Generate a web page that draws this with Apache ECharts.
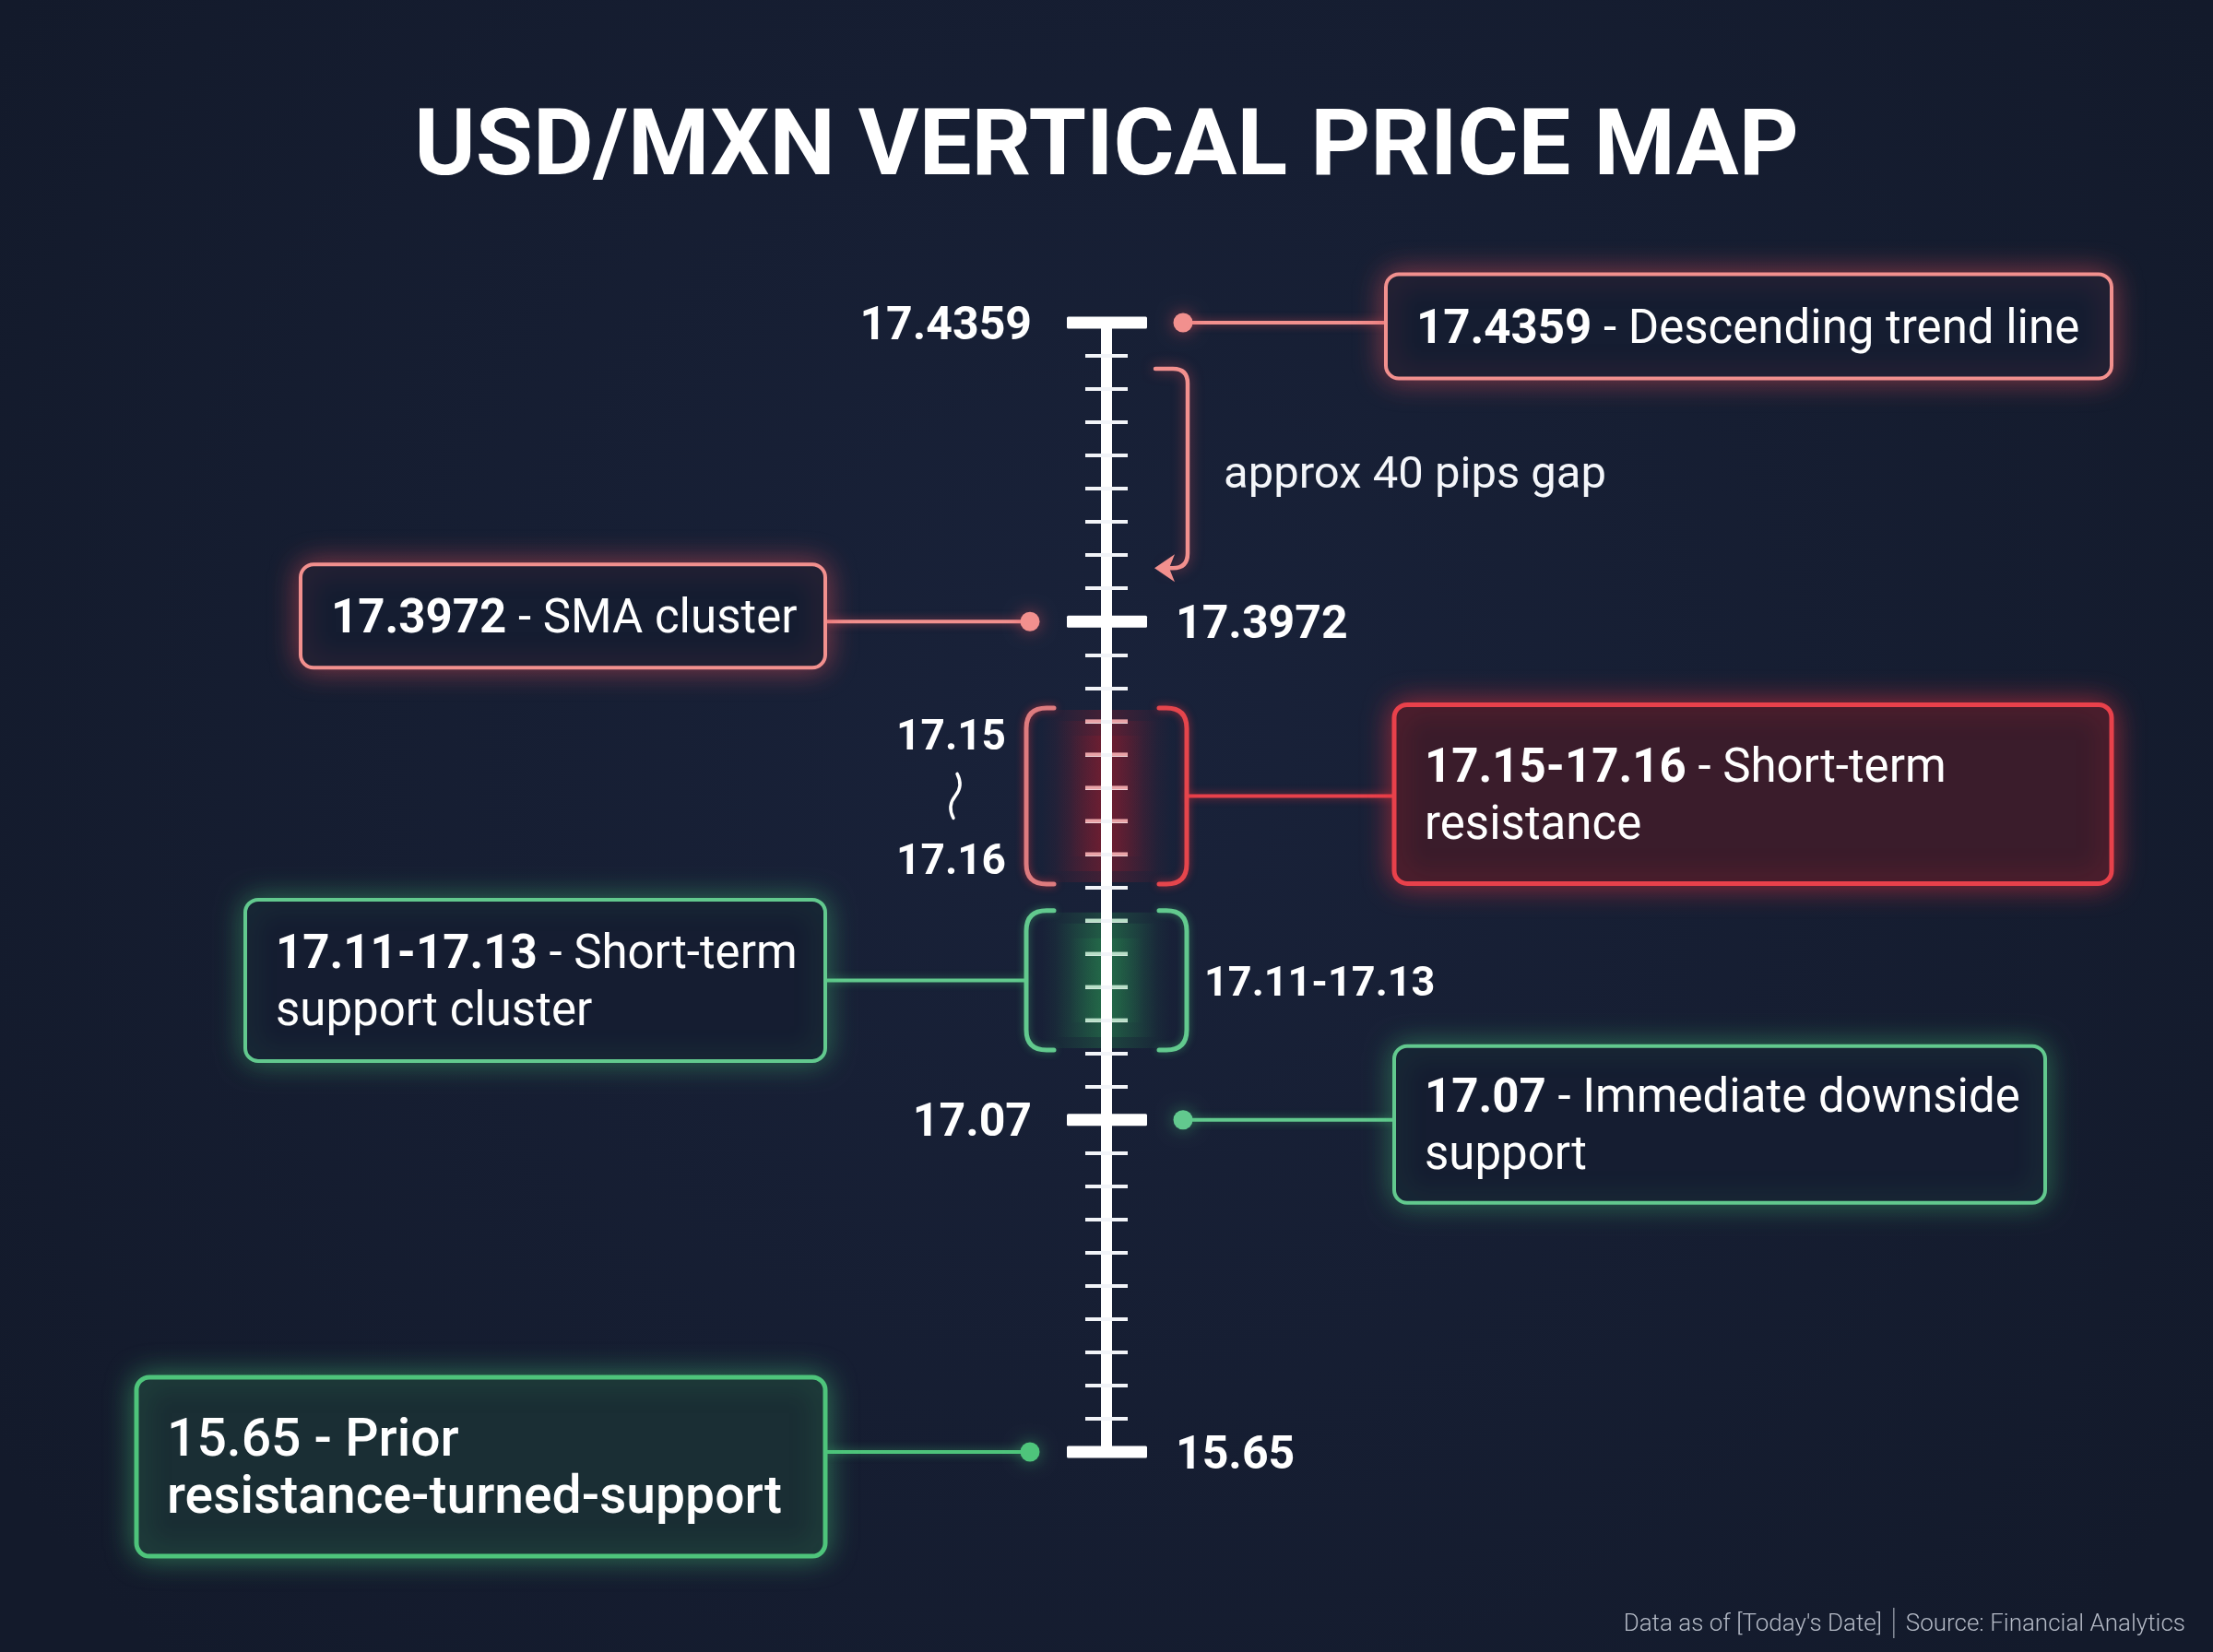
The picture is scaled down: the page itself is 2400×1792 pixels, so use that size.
<!DOCTYPE html>
<html>
<head>
<meta charset="utf-8">
<script src="https://cdn.jsdelivr.net/npm/echarts@6/dist/echarts.min.js"></script>
<style>
html,body{margin:0;padding:0;background:#151d30;}
#chart{width:2400px;height:1792px;}
</style>
</head>
<body>
<div id="chart"></div>
<script>
// ---------- data ----------
const titleText = 'USD/MXN VERTICAL PRICE MAP';
const levelPrices = ['17.4359', '17.3972', '17.15-17.16', '17.11-17.13', '17.07', '15.65'];
const levelNotes = ['Descending trend line', 'SMA cluster', 'Short-term\nresistance', 'Short-term\nsupport cluster', 'Immediate downside\nsupport', 'Prior\nresistance-turned-support'];
const levelKinds = ['resistance', 'resistance', 'resistance', 'support', 'support', 'support'];
// position of each level on the schematic ruler (ruler slots, 0 = top)
const rulerFrom = [0, 9, 11.6, 17.7, 24, 34];
const rulerTo   = [0, 9, 16.9, 21.9, 24, 34];
const rulerMin = 0;
const rulerMax = 34;
const rulerStep = 1;
const gapNote = 'approx 40 pips gap';
const gapPair = [0, 1];
const footerDate = "Data as of [Today's Date]";
const footerSource = 'Source: Financial Analytics';

// ---------- layout / styles ----------
const FONT = 'Roboto, "Noto Sans", sans-serif';
const TDY = 5; // small downward nudge for text baselines
const PINK = '#F2908E', RED = '#E8414B', GREEN = '#62C98E', GREEN2 = '#4EC47B';
const boxLayout = [
  {side: 1,  x0: 303,   x1: 1090, h: 113, dy: 4,  fill: '#151d31', stroke: PINK,  lw: 4, glow: 'rgba(230,80,90,0.55)', size: 51, wNum: 'bold', wTxt: 'normal', labelGap: 81},
  {side: -1, x0: -874,  x1: -305, h: 112, dy: -6, fill: '#151d31', stroke: PINK,  lw: 4, glow: 'rgba(230,80,90,0.55)', size: 51, wNum: 'bold', wTxt: 'normal', labelGap: 75},
  {side: 1,  x0: 312,   x1: 1090, h: 194, dy: -2, fill: '#3a1c2b', stroke: RED,   lw: 5, glow: 'rgba(235,50,60,0.6)', size: 51, wNum: 'bold', wTxt: 'normal',
   zoneLabel: 'split', bracketL: '#DE7B7F', bracketR: '#E5454C', tick: '#E9A3A7', zoneGlow: '150,28,45'},
  {side: -1, x0: -934,  x1: -305, h: 175, dy: 0,  fill: '#151d31', stroke: GREEN, lw: 4, glow: 'rgba(70,200,120,0.45)', size: 51, wNum: 'bold', wTxt: 'normal',
   zoneLabel: 'whole', bracketL: GREEN, bracketR: GREEN, tick: '#B8DEC7', zoneGlow: '40,140,80'},
  {side: 1,  x0: 312,   x1: 1018, h: 170, dy: 5,  fill: '#151d31', stroke: GREEN, lw: 4, glow: 'rgba(70,200,120,0.45)', size: 51, wNum: 'bold', wTxt: 'normal', labelGap: 81},
  {side: -1, x0: -1052, x1: -305, h: 194, dy: 16, fill: '#1a2e34', stroke: GREEN2, lw: 5, glow: 'rgba(70,200,120,0.5)', size: 57, wNum: 500, wTxt: 500, labelGap: 75}
];

function levelColor(i) { return boxLayout[i].stroke; }

// ---------- render: zone glows (behind the axis) ----------
function renderGlow(params, api) {
  const i = api.value(0);
  const L = boxLayout[i];
  const pA = api.coord([0, api.value(1)]);
  const pB = api.coord([0, api.value(2)]);
  if (pB[1] - pA[1] < 1 || !L.zoneGlow) return {type: 'group', children: []};
  const c = L.zoneGlow;
  const grad = function (a) {
    return {type: 'linear', x: 0, y: 0, x2: 1, y2: 0, colorStops: [
      {offset: 0, color: 'rgba(' + c + ',0)'},
      {offset: 0.5, color: 'rgba(' + c + ',' + a + ')'},
      {offset: 1, color: 'rgba(' + c + ',0)'}]};
  };
  const h = pB[1] - pA[1];
  return {type: 'group', children: [
    {type: 'rect', shape: {x: pA[0] - 70, y: pA[1] + 2, width: 140, height: h - 4}, style: {fill: grad(0.35)}},
    {type: 'rect', shape: {x: pA[0] - 55, y: pA[1] + 14, width: 110, height: h - 28}, style: {fill: grad(0.35)}},
    {type: 'rect', shape: {x: pA[0] - 40, y: pA[1] + 30, width: 80, height: h - 60}, style: {fill: grad(0.3)}}
  ]};
}

// ---------- render: levels ----------
function renderLevel(params, api) {
  const i = api.value(0);
  const L = boxLayout[i];
  const pA = api.coord([0, api.value(1)]);
  const pB = api.coord([0, api.value(2)]);
  const cx = pA[0], yA = pA[1], yB = pB[1];
  const isZone = yB - yA > 1;
  const yMid = (yA + yB) / 2;
  const col = levelColor(i);
  const ch = [];
  const ls = -L.side;
  const align = ls < 0 ? 'right' : 'left';

  const bx0 = cx + L.x0, bx1 = cx + L.x1, bcy = yMid + L.dy;
  const edge = L.side > 0 ? bx0 : bx1;

  if (isZone) {
    const bxStart = cx + L.side * 87;
    ch.push({type: 'line', shape: {x1: bxStart, y1: yMid, x2: edge, y2: yMid},
      style: {stroke: col, lineWidth: 4, shadowBlur: 10, shadowColor: L.glow}});
    for (let s = Math.ceil(api.value(1)); s <= Math.floor(api.value(2)); s += rulerStep) {
      const ty = api.coord([0, s])[1];
      ch.push({type: 'line', shape: {x1: cx - 23, y1: ty, x2: cx - 6, y2: ty}, style: {stroke: L.tick, lineWidth: 4}});
      ch.push({type: 'line', shape: {x1: cx + 6, y1: ty, x2: cx + 23, y2: ty}, style: {stroke: L.tick, lineWidth: 4}});
    }
    const R = 22, xo = 87, xi = 57;
    const xl = cx - xo, xr = cx + xo;
    const dl = 'M ' + (cx - xi) + ' ' + yA + ' L ' + (xl + R) + ' ' + yA + ' Q ' + xl + ' ' + yA + ' ' + xl + ' ' + (yA + R) +
      ' L ' + xl + ' ' + (yB - R) + ' Q ' + xl + ' ' + yB + ' ' + (xl + R) + ' ' + yB + ' L ' + (cx - xi) + ' ' + yB;
    const dr = 'M ' + (cx + xi) + ' ' + yA + ' L ' + (xr - R) + ' ' + yA + ' Q ' + xr + ' ' + yA + ' ' + xr + ' ' + (yA + R) +
      ' L ' + xr + ' ' + (yB - R) + ' Q ' + xr + ' ' + yB + ' ' + (xr - R) + ' ' + yB + ' L ' + (cx + xi) + ' ' + yB;
    ch.push({type: 'path', shape: {pathData: dl}, style: {fill: 'none', stroke: L.bracketL, lineWidth: 5, lineCap: 'round', shadowBlur: 8, shadowColor: L.glow}});
    ch.push({type: 'path', shape: {pathData: dr}, style: {fill: 'none', stroke: L.bracketR, lineWidth: 5, lineCap: 'round', shadowBlur: 8, shadowColor: L.glow}});
    if (L.zoneLabel === 'split') {
      const parts = levelPrices[i].split('-');
      const lx = cx + ls * 109;
      ch.push({type: 'text', style: {x: lx, y: yA + 29 + TDY, text: parts[0], align: align, verticalAlign: 'middle',
        fill: '#ffffff', fontSize: 46, fontWeight: 'bold', fontFamily: FONT}});
      ch.push({type: 'text', style: {x: lx, y: yB - 27 + TDY, text: parts[1], align: align, verticalAlign: 'middle',
        fill: '#ffffff', fontSize: 46, fontWeight: 'bold', fontFamily: FONT}});
      const sx = cx + ls * 164;
      const sq = 'M ' + (sx + 2) + ' ' + (yMid - 24) + ' Q ' + (sx + 9) + ' ' + (yMid - 11) + ' ' + sx + ' ' + yMid +
        ' Q ' + (sx - 9) + ' ' + (yMid + 11) + ' ' + (sx - 2) + ' ' + (yMid + 24);
      ch.push({type: 'path', shape: {pathData: sq}, style: {fill: 'none', stroke: '#ffffff', lineWidth: 3.5, lineCap: 'round'}});
    } else {
      ch.push({type: 'text', style: {x: cx + ls * 106, y: yMid + TDY, text: levelPrices[i], align: align, verticalAlign: 'middle',
        fill: '#ffffff', fontSize: 45, fontWeight: 'bold', fontFamily: FONT}});
    }
  } else {
    ch.push({type: 'rect', shape: {x: cx - 43, y: yA - 6.5, width: 87, height: 13, r: 1.5}, style: {fill: '#ffffff'}});
    ch.push({type: 'text', style: {x: cx + ls * L.labelGap, y: yA + TDY, text: levelPrices[i], align: align, verticalAlign: 'middle',
      fill: '#ffffff', fontSize: 50, fontWeight: 'bold', fontFamily: FONT}});
    const dx = cx + L.side * 83;
    ch.push({type: 'line', shape: {x1: dx, y1: yA, x2: edge, y2: yA},
      style: {stroke: col, lineWidth: 4, shadowBlur: 10, shadowColor: L.glow}});
    ch.push({type: 'circle', shape: {cx: dx, cy: yA, r: 10.5},
      style: {fill: col, shadowBlur: 18, shadowColor: L.glow}});
  }

  ch.push({type: 'rect', shape: {x: bx0, y: bcy - L.h / 2, width: bx1 - bx0, height: L.h, r: 14},
    style: {fill: L.fill, stroke: col, lineWidth: L.lw, shadowBlur: 30, shadowColor: L.glow}});
  ch.push({type: 'text', style: {
    x: bx0 + 33, y: bcy + TDY, align: 'left', verticalAlign: 'middle',
    text: '{b|' + levelPrices[i] + '}{r| - ' + levelNotes[i] + '}',
    fill: '#ffffff', fontSize: L.size, fontFamily: FONT,
    rich: {
      b: {fill: '#ffffff', color: '#ffffff', fontSize: L.size, fontWeight: L.wNum, fontFamily: FONT, lineHeight: 62},
      r: {fill: '#ffffff', color: '#ffffff', fontSize: L.size, fontWeight: L.wTxt, fontFamily: FONT, lineHeight: 62}
    }
  }});
  return {type: 'group', children: ch};
}

// ---------- render: gap annotation ----------
function renderGap(params, api) {
  const p0 = api.coord([0, api.value(0)]);
  const p1 = api.coord([0, api.value(1)]);
  const cx = p0[0], top = p0[1] + 50, bot = p1[1] - 58;
  const xa = cx + 53, xv = cx + 88, R = 16;
  const d = 'M ' + xa + ' ' + top + ' L ' + (xv - R) + ' ' + top + ' Q ' + xv + ' ' + top + ' ' + xv + ' ' + (top + R) +
    ' L ' + xv + ' ' + (bot - R) + ' Q ' + xv + ' ' + bot + ' ' + (xv - R) + ' ' + bot + ' L ' + (cx + 66) + ' ' + bot;
  return {type: 'group', children: [
    {type: 'path', shape: {pathData: d}, style: {fill: 'none', stroke: PINK, lineWidth: 4.5, lineCap: 'round', shadowBlur: 14, shadowColor: 'rgba(230,80,90,0.6)'}},
    {type: 'polygon', shape: {points: [[cx + 52, bot], [cx + 74, bot - 15], [cx + 68, bot], [cx + 74, bot + 15]]}, style: {fill: PINK}},
    {type: 'text', style: {x: cx + 127, y: (p0[1] + p1[1]) / 2 + TDY, text: gapNote, align: 'left', verticalAlign: 'middle',
      fill: '#f4f6fa', fontSize: 49, fontWeight: 'normal', fontFamily: FONT}}
  ]};
}

// ---------- axes ----------
function yAxisDef(position) {
  return {
    type: 'value', position: position, min: rulerMin, max: rulerMax, interval: rulerStep, inverse: true,
    splitLine: {show: false},
    axisLine: {show: true, onZero: true, onZeroAxisIndex: 0, lineStyle: {color: '#ffffff', width: 12, cap: 'butt'}},
    axisTick: {show: true, inside: false, length: 23, lineStyle: {color: '#f2f4f8', width: 4}},
    axisLabel: {show: false}
  };
}

const dataRows = levelPrices.map((p, i) => [i, rulerFrom[i], rulerTo[i]]);

const option = {
  backgroundColor: {type: 'radial', x: 0.5, y: 0.45, r: 0.8, colorStops: [
    {offset: 0, color: '#19223a'}, {offset: 1, color: '#131a2b'}]},
  animation: false,
  grid: {left: 0, right: 0, top: 350, bottom: 217, containLabel: false, outerBoundsMode: 'none'},
  xAxis: {type: 'value', min: -1200, max: 1200, show: false},
  yAxis: [yAxisDef('left'), yAxisDef('right')],
  graphic: [
    {type: 'text', x: 1200, y: 164, style: {text: titleText, align: 'center', verticalAlign: 'middle',
      fill: '#ffffff', fontSize: 101, fontWeight: 'bold', fontFamily: FONT}},
    {type: 'text', x: 2370, y: 1762, style: {
      text: '{a|' + footerDate + '}{s| | }{a|' + footerSource + '}', align: 'right', verticalAlign: 'middle',
      fill: '#b4bac6', fontSize: 26, fontFamily: FONT,
      rich: {a: {fill: '#b4bac6', fontSize: 26, fontWeight: 300, fontFamily: FONT},
             s: {fill: '#b4bac6', fontSize: 38, fontWeight: 100, fontFamily: FONT}}}}
  ],
  series: [
    {type: 'custom', name: 'zone glow', z: -1, coordinateSystem: 'cartesian2d', yAxisIndex: 0,
      data: dataRows, encode: {x: 0, y: 1}, renderItem: renderGlow, silent: true, clip: false},
    {type: 'custom', name: 'levels', z: 3, coordinateSystem: 'cartesian2d', yAxisIndex: 0,
      data: dataRows, encode: {x: 0, y: 1}, renderItem: renderLevel, silent: true, clip: false},
    {type: 'custom', name: 'gap', z: 3, coordinateSystem: 'cartesian2d', yAxisIndex: 0,
      data: [[rulerFrom[gapPair[0]], rulerFrom[gapPair[1]]]], encode: {y: 0}, renderItem: renderGap, silent: true, clip: false}
  ]
};

const chart = echarts.init(document.getElementById('chart'), null, {renderer: 'canvas', width: 2400, height: 1792});
chart.setOption(option);
</script>
</body>
</html>
